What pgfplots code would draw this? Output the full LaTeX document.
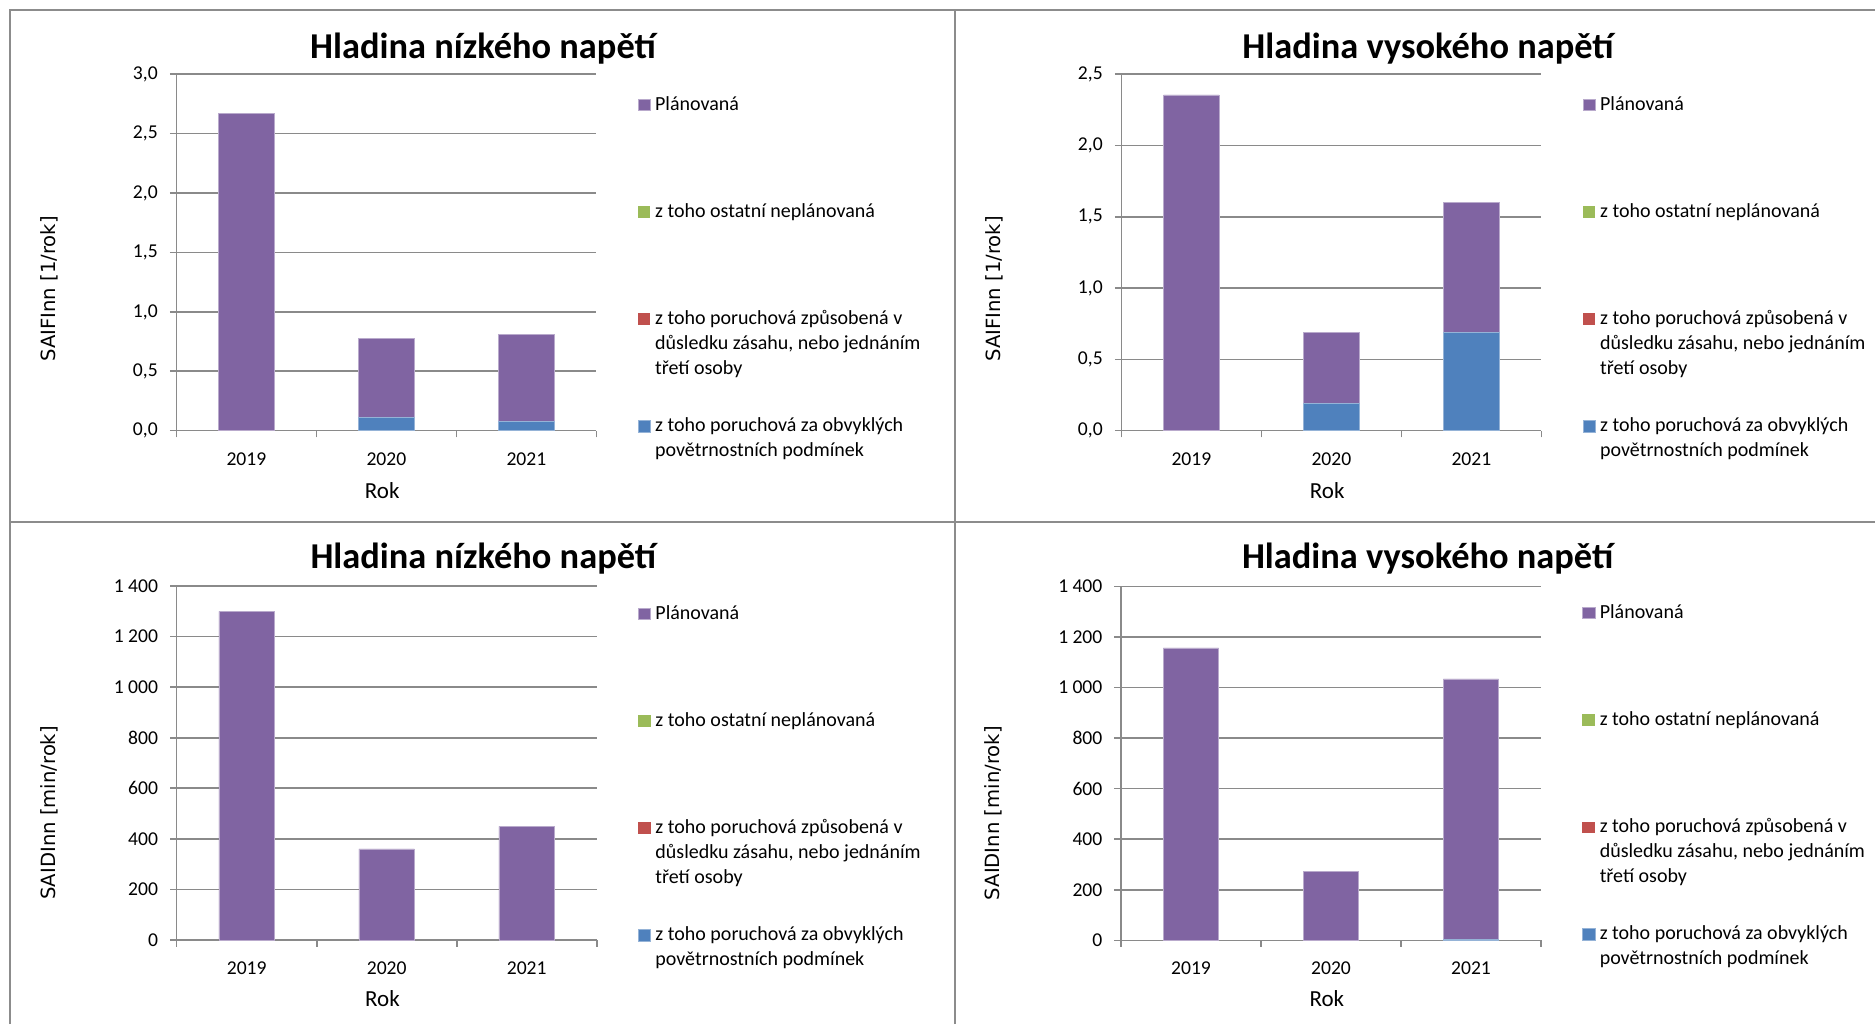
\documentclass[border=0pt]{standalone}
\usepackage{pgfplots}
\pgfplotsset{compat=1.18}
\usepackage{fontspec}
\setmainfont{Carlito}
\newfontfamily\dejavu{DejaVu Sans}
\definecolor{cPur}{HTML}{8064A2}
\definecolor{cBlu}{HTML}{4F81BD}
\definecolor{cRed}{HTML}{C0504D}
\definecolor{cGrn}{HTML}{9BBB59}
\definecolor{gridg}{HTML}{8A8A8A}
\definecolor{frameg}{HTML}{8C8C8C}

\newcommand\lgent[1]{\parbox[t][53.6pt][t]{170pt}{\fontsize{10}{12.5}\selectfont\strut #1}}

\pgfplotsset{
 panel/.style={
  scale only axis, width=210pt,
  ybar stacked, bar width=0.396,
  xmin=-0.5, xmax=2.5,
  xtick={-0.5,0.5,1.5,2.5}, xticklabels={},
  extra x ticks={0,1,2}, extra x tick labels={2019,2020,2021},
  extra x tick style={major tick length=0pt, grid=none},
  xticklabel style={yshift=-7.3pt},
  yticklabel style={xshift=-2.5pt},
  ymin=0,
  axis x line*=bottom, axis y line*=left,
  axis line style={draw=gridg, line width=0.8pt, -},
  tick style={draw=gridg, line width=0.8pt},
  ymajorgrids, grid style={draw=gridg, line width=0.8pt},
  tick align=outside, major tick length=3.3pt,
  tick label style={font=\fontsize{9.8}{11.5}\selectfont},
  /pgf/number format/assume math mode=true,
  scaled y ticks=false,
  xlabel={Rok},
  xlabel style={font=\fontsize{11.5}{14}\selectfont, anchor=center},
  ylabel style={font=\dejavu\fontsize{9.8}{12}\selectfont, anchor=center},
  every axis title shift=0pt,
  title style={font=\bfseries\fontsize{18.2}{22}\selectfont, anchor=center},
  reverse legend,
  legend cell align=left,
  legend style={draw=none, fill=none, inner sep=0pt, row sep=0pt, column sep=2.3pt,
    nodes={inner sep=0pt, text depth=}, cells={anchor=base west}, anchor=north west},
  legend image code/.code={\fill[##1] (0pt,-0.2pt) rectangle (6.2pt,5.6pt);},
 },
 sBlu/.style={fill=cBlu, draw=cBlu!60!white, line width=0.3pt},
 sRed/.style={fill=cRed, draw=none},
 sGrn/.style={fill=cGrn, draw=none},
 sPur/.style={fill=cPur, draw=cPur!55!white, line width=0.3pt},
 fmtA/.style={yticklabel style={/pgf/number format/.cd, fixed, fixed zerofill, precision=1, use comma}},
 fmtB/.style={yticklabel style={/pgf/number format/.cd, fixed, precision=0, 1000 sep={\hspace{0.22em}}}},
}

\begin{document}
\begin{tikzpicture}
\useasboundingbox (0,0) rectangle (937.5pt,512pt);
\fill[white] (0,0) rectangle (937.5pt,512pt);
\draw[frameg, line width=1pt] (5pt,0) -- (5pt,506.85pt) -- (937.5pt,506.85pt);
\draw[frameg, line width=1pt] (477.65pt,0) -- (477.65pt,506.85pt);
\draw[frameg, line width=1pt] (5pt,250.85pt) -- (937.5pt,250.85pt);

% ---------- top left ----------
\begin{axis}[panel, fmtA, at={(88.2pt,296.65pt)}, anchor=south west, height=178.2pt,
 ymax=3, ytick={0,0.5,1,1.5,2,2.5,3},
 ylabel={SAIFInn [1/rok]}, ylabel style={at={(axis description cs:-0.303,0.398)}},
 xlabel style={at={(axis description cs:0.49,-0.168)}},
 title={Hladina nízkého napětí}, title style={at={(axis description cs:0.73,1.071)}},
 legend style={at={(axis description cs:1.097,0.950)}}]
\addplot[sBlu] coordinates {(0,0) (1,0.11) (2,0.075)};
\addlegendentry{\lgent{z toho poruchová za obvyklých\\povětrnostních podmínek}}
\addplot[sRed] coordinates {(0,0) (1,0) (2,0)};
\addlegendentry{\lgent{z toho poruchová způsobená v\\důsledku zásahu, nebo jednáním\\třetí osoby}}
\addplot[sGrn] coordinates {(0,0) (1,0) (2,0)};
\addlegendentry{\lgent{z toho ostatní neplánovaná}}
\addplot[sPur] coordinates {(0,2.67) (1,0.665) (2,0.735)};
\addlegendentry{\lgent{Plánovaná}}
\end{axis}

% ---------- top right ----------
\begin{axis}[panel, fmtA, at={(560.7pt,296.65pt)}, anchor=south west, height=178.2pt,
 ymax=2.5, ytick={0,0.5,1,1.5,2,2.5},
 ylabel={SAIFInn [1/rok]}, ylabel style={at={(axis description cs:-0.303,0.398)}},
 xlabel style={at={(axis description cs:0.49,-0.168)}},
 title={Hladina vysokého napětí}, title style={at={(axis description cs:0.73,1.071)}},
 legend style={at={(axis description cs:1.097,0.950)}}]
\addplot[sBlu] coordinates {(0,0) (1,0.19) (2,0.69)};
\addlegendentry{\lgent{z toho poruchová za obvyklých\\povětrnostních podmínek}}
\addplot[sRed] coordinates {(0,0) (1,0) (2,0)};
\addlegendentry{\lgent{z toho poruchová způsobená v\\důsledku zásahu, nebo jednáním\\třetí osoby}}
\addplot[sGrn] coordinates {(0,0) (1,0) (2,0)};
\addlegendentry{\lgent{z toho ostatní neplánovaná}}
\addplot[sPur] coordinates {(0,2.355) (1,0.50) (2,0.91)};
\addlegendentry{\lgent{Plánovaná}}
\end{axis}

% ---------- bottom left ----------
\begin{axis}[panel, fmtB, at={(88.35pt,42pt)}, anchor=south west, height=177pt,
 ymax=1400, ytick={0,200,400,600,800,1000,1200,1400},
 ylabel={SAIDInn [min/rok]}, ylabel style={at={(axis description cs:-0.303,0.359)}},
 xlabel style={at={(axis description cs:0.49,-0.166)}},
 title={Hladina nízkého napětí}, title style={at={(axis description cs:0.73,1.078)}},
 legend style={at={(axis description cs:1.097,0.957)}}]
\addplot[sBlu] coordinates {(0,0) (1,0) (2,0)};
\addlegendentry{\lgent{z toho poruchová za obvyklých\\povětrnostních podmínek}}
\addplot[sRed] coordinates {(0,0) (1,0) (2,0)};
\addlegendentry{\lgent{z toho poruchová způsobená v\\důsledku zásahu, nebo jednáním\\třetí osoby}}
\addplot[sGrn] coordinates {(0,0) (1,0) (2,0)};
\addlegendentry{\lgent{z toho ostatní neplánovaná}}
\addplot[sPur] coordinates {(0,1300) (1,360) (2,449)};
\addlegendentry{\lgent{Plánovaná}}
\end{axis}

% ---------- bottom right ----------
\begin{axis}[panel, fmtB, at={(560.5pt,41.85pt)}, anchor=south west, height=177pt,
 ymax=1400, ytick={0,200,400,600,800,1000,1200,1400},
 ylabel={SAIDInn [min/rok]}, ylabel style={at={(axis description cs:-0.303,0.359)}},
 xlabel style={at={(axis description cs:0.49,-0.166)}},
 title={Hladina vysokého napětí}, title style={at={(axis description cs:0.73,1.078)}},
 legend style={at={(axis description cs:1.097,0.960)}}]
\addplot[sBlu] coordinates {(0,0) (1,0) (2,5)};
\addlegendentry{\lgent{z toho poruchová za obvyklých\\povětrnostních podmínek}}
\addplot[sRed] coordinates {(0,0) (1,0) (2,0)};
\addlegendentry{\lgent{z toho poruchová způsobená v\\důsledku zásahu, nebo jednáním\\třetí osoby}}
\addplot[sGrn] coordinates {(0,0) (1,0) (2,0)};
\addlegendentry{\lgent{z toho ostatní neplánovaná}}
\addplot[sPur] coordinates {(0,1156) (1,272) (2,1029)};
\addlegendentry{\lgent{Plánovaná}}
\end{axis}
\end{tikzpicture}
\end{document}
